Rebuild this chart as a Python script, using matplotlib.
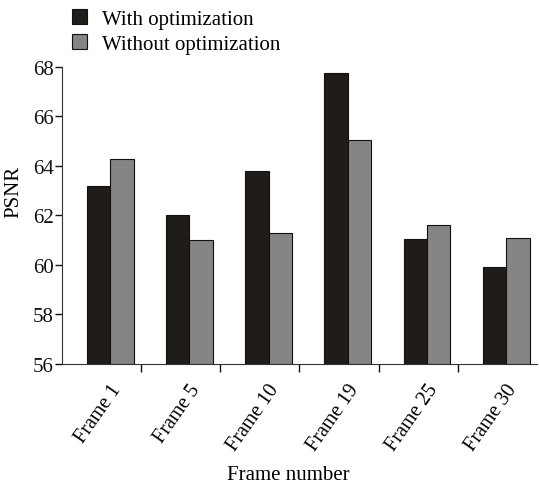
import matplotlib
matplotlib.use("Agg")
import matplotlib.pyplot as plt
import numpy as np

categories = ["Frame 1", "Frame 5", "Frame 10", "Frame 19", "Frame 25", "Frame 30"]
with_opt = [63.2, 62.0, 63.8, 67.75, 61.05, 59.9]
without_opt = [64.3, 61.0, 61.3, 65.05, 61.6, 61.1]
yticks = [56, 58, 60, 62, 64, 66, 68]

plt.rcParams['font.family'] = ['Liberation Serif', 'DejaVu Serif']
FS = 15

fig = plt.figure(figsize=(5.39, 4.89), dpi=100)
ax = fig.add_axes([62/539, 1-365/489, (537-62)/539, (365-68)/489])

x = np.arange(len(categories))
w = 0.296
off = 0.11
ax.bar(x + off - w/2, np.array(with_opt) - 56, w, bottom=56, color='#201c1a',
       edgecolor='#111111', linewidth=0.8, label='With optimization')
ax.bar(x + off + w/2, np.array(without_opt) - 56, w, bottom=56, color='#858585',
       edgecolor='#111111', linewidth=0.8, label='Without optimization')

ax.set_xlim(-0.5, len(categories) - 0.5)
ax.set_ylim(56, 68)
ax.set_yticks(yticks)
ax.set_yticklabels([str(t) for t in yticks], fontsize=FS)
ax.tick_params(axis='y', direction='out', length=5, width=1, pad=1, colors='#111111')

# x ticks at group boundaries
ax.set_xticks(np.arange(0.5, len(categories) - 0.5, 1.0), minor=False)
ax.set_xticklabels([])
ax.tick_params(axis='x', direction='out', length=6, width=1, colors='#111111')
ax.set_xticks(x + 0.1, minor=True)
ax.set_xticklabels(categories, minor=True, rotation=55, ha='right', va='top',
                   rotation_mode='anchor', fontsize=14.5)
ax.tick_params(axis='x', which='minor', length=0, pad=12)

for s in ['top', 'right']:
    ax.spines[s].set_visible(False)
ax.spines['left'].set_color('#333333')
ax.spines['bottom'].set_color('#333333')

fig.text(14/539, 1-192/489, 'PSNR', rotation=90, ha='center', va='center', fontsize=FS)
fig.text(288/539, 1-476/489, 'Frame number', ha='center', va='center', fontsize=FS)

fig.legend(loc='upper left', bbox_to_anchor=(0.11, 1.005), frameon=False,
           fontsize=FS, handlelength=0.75, handleheight=0.75, handletextpad=0.7,
           labelspacing=0.25, borderaxespad=0.2)

fig.savefig('out.png', dpi=100)
